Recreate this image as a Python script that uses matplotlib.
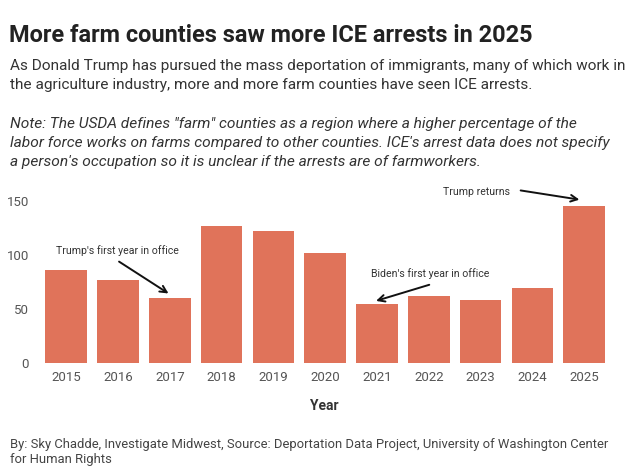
import matplotlib
matplotlib.use("Agg")
import matplotlib.pyplot as plt
from matplotlib import font_manager

years = ["2015", "2016", "2017", "2018", "2019", "2020", "2021", "2022", "2023", "2024", "2025"]
arrests = [86, 77, 60, 127, 122, 102, 54, 62, 58, 69, 145]
yticks = [0, 50, 100, 150]

title = "More farm counties saw more ICE arrests in 2025"
subtitle = ["As Donald Trump has pursued the mass deportation of immigrants, many of which work in",
            "the agriculture industry, more and more farm counties have seen ICE arrests."]
note = ["Note: The USDA defines \"farm\" counties as a region where a higher percentage of the",
        "labor force works on farms compared to other counties. ICE's arrest data does not specify",
        "a person's occupation so it is unclear if the arrests are of farmworkers."]
credits = ["By: Sky Chadde, Investigate Midwest, Source: Deportation Data Project, University of Washington Center",
           "for Human Rights"]

avail = {f.name for f in font_manager.fontManager.ttflist}
fam = "Roboto" if "Roboto" in avail else "DejaVu Sans"
plt.rcParams["font.family"] = [fam, "DejaVu Sans"]

W, H = 640, 475
fig = plt.figure(figsize=(6.4, 4.75), dpi=100)
fig.patch.set_facecolor("white")

def fy(py):
    return 1 - py / H

def fx(px):
    return px / W

bar_color = "#e0735a"
ax = fig.add_axes([0.0630, 0.2364, 0.8903, 0.3638])
x = list(range(len(years)))
ax.bar(x, arrests, width=0.8, color=bar_color)
ax.set_xlim(-0.5, len(years) - 0.5)
ax.set_ylim(0, 160)
ax.set_xticks(x)
ax.set_xticklabels(years)
ax.set_yticks(yticks)
ax.set_yticklabels([str(v) for v in yticks])
for s in ax.spines.values():
    s.set_visible(False)
ax.tick_params(axis="both", length=0, labelsize=9.5, colors="#555555")
ax.tick_params(axis="x", pad=6)
ax.tick_params(axis="y", pad=8)
ax.set_facecolor("white")

# annotations
ann_kw = dict(fontsize=7.6, color="#333333", ha="center", va="center")
arrow_kw = dict(arrowstyle="->", color="#111111", lw=1.4, mutation_scale=12)
ax.text(0.98, 103.4, "Trump's first year in office", **ann_kw)
ax.annotate("", xy=(2.02, 62.7), xytext=(0.975, 95), arrowprops=arrow_kw, annotation_clip=False)
ax.text(7.02, 82.1, "Biden's first year in office", **ann_kw)
ax.annotate("", xy=(5.93, 56.5), xytext=(7.06, 72.9), arrowprops=arrow_kw, annotation_clip=False)
ax.text(7.93, 158.3, "Trump returns", clip_on=False, **ann_kw)
ax.annotate("", xy=(9.96, 150.6), xytext=(8.72, 159.9), arrowprops=arrow_kw, annotation_clip=False)

# Year label
fig.text(fx(324), fy(410), "Year", fontsize=10, fontweight="bold", color="#333333", ha="center", va="baseline")

# Title and texts
fig.text(fx(9), fy(41.7), title, fontsize=16.9, fontweight="bold", color="#222222", ha="left", va="baseline")
for i, line in enumerate(subtitle):
    fig.text(fx(10), fy(70 + 18.8 * i), line, fontsize=11.1, color="#333333", ha="left", va="baseline")
for i, line in enumerate(note):
    fig.text(fx(10), fy(127.7 + 19.2 * i), line, fontsize=11.15, style="italic", color="#333333", ha="left", va="baseline")
for i, line in enumerate(credits):
    fig.text(fx(10), fy(448.3 + 15.2 * i), line, fontsize=9.4, color="#444444", ha="left", va="baseline")

fig.savefig("out.png", dpi=100, facecolor="white")
